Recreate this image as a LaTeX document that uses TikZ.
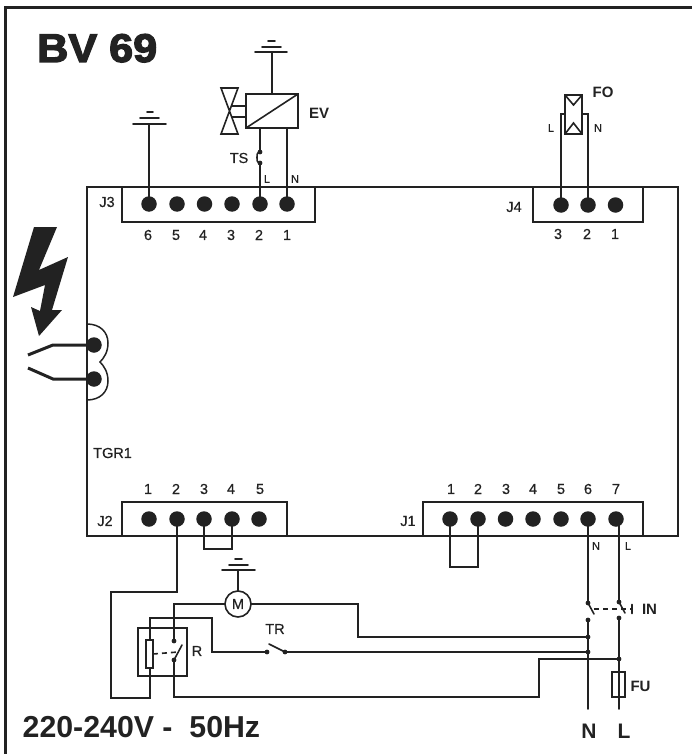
\documentclass[tikz,border=0pt]{standalone}
\usepackage{fontspec}
\setmainfont{Liberation Sans}
\newfontfamily\heavyfont[FakeBold=3.2,FakeStretch=1.08]{Liberation Sans Bold}
\newfontfamily\boldfont{Liberation Sans Bold}
\newfontfamily\medfont[FakeBold=0.5]{Liberation Sans}
\definecolor{ink}{HTML}{222222}
\tikzset{
  wire/.style={draw=ink,line width=1.6pt,line cap=round,line join=miter},
  frameline/.style={draw=ink,line width=1.5pt},
  outer/.style={draw=ink,line width=3pt},
  termdot/.style={circle,fill=ink,minimum size=15.5pt,inner sep=0pt,outer sep=0pt},
  smalldot/.style={circle,fill=ink,minimum size=4.8pt,inner sep=0pt,outer sep=0pt},
  lab/.style={text=ink,inner sep=0pt,font=\medfont\fontsize{14.5}{14.5}\selectfont},
  tiny/.style={text=ink,inner sep=0pt,font=\medfont\fontsize{11}{11}\selectfont},
  blab/.style={text=ink,inner sep=0pt,font=\boldfont\fontsize{15}{15}\selectfont},
  thickcontact/.style={draw=ink,line width=3pt},
  dashwire/.style={draw=ink,line width=1.6pt,dash pattern=on 5pt off 4pt},
}
\begin{document}
\begin{tikzpicture}[x=1pt,y=-1pt]
\useasboundingbox (0,0) rectangle (692,754);
% outer frame
\draw[outer] (692,8) -- (5.5,8) -- (5.5,754);
% board
\draw[frameline] (87,187) -- (678,187) -- (678,536) -- (87,536) -- cycle;
\draw[frameline] (122,187) -- (122,222) -- (315,222) -- (315,187);
\draw[frameline] (533,187) -- (533,222) -- (643,222) -- (643,187);
\draw[frameline] (122,536) -- (122,502) -- (287,502) -- (287,536);
\draw[frameline] (423,536) -- (423,502) -- (643,502) -- (643,536);
% antenna bulge
\draw[frameline] (87,324) .. controls (100,324) and (108,332) .. (108,343) .. controls (108,352) and (104,358) .. (100,362) .. controls (104,366) and (108,372) .. (108,381) .. controls (108,392) and (100,400) .. (87,400);
% terminals
\foreach \n/\x in {6/149,5/177,4/204.5,3/232,2/260,1/287}{\node[termdot] (jc\n) at (\x,204) {};}
\foreach \n/\x in {3/561,2/588,1/615.5}{\node[termdot] (jd\n) at (\x,205) {};}
\foreach \n/\x in {1/149,2/177,3/204,4/232,5/259}{\node[termdot] (jb\n) at (\x,519) {};}
\foreach \n/\x in {1/450,2/478,3/505.5,4/533,5/561,6/588,7/616}{\node[termdot] (ja\n) at (\x,519) {};}
\node[termdot] (ca) at (94,345) {};
\node[termdot] (cb) at (94,379) {};
% terminal numbers
\foreach \n/\x in {6/148,5/176,4/203,3/231,2/259,1/287}{\node[lab] (njc\n) at (\x,235) {\n};}
\foreach \n/\x in {3/558,2/587,1/615}{\node[lab] (njd\n) at (\x,234) {\n};}
\foreach \n/\x in {1/148,2/176,3/204,4/231,5/260}{\node[lab] (njb\n) at (\x,489) {\n};}
\foreach \n/\x in {1/451,2/478,3/506,4/533,5/561,6/588,7/616}{\node[lab] (nja\n) at (\x,489) {\n};}
\node[lab] (lj3) at (107,202) {J3};
\node[lab] (lj4) at (514,207) {J4};
\node[lab] (lj2) at (105,521) {J2};
\node[lab] (lj1) at (408,521) {J1};
\node[lab,anchor=west] (ltgr) at (93,453) {TGR1};
% titles
\node[anchor=base west,text=ink,inner sep=0pt,font=\heavyfont\fontsize{40}{40}\selectfont] (title) at (37,62) {BV 69};
\node[anchor=base west,text=ink,inner sep=0pt,font=\boldfont\fontsize{30.3}{30.3}\selectfont] (volt) at (22.5,737) {220-240V -\ \ 50Hz};
% lightning
\fill[ink] (34,227) -- (57,227) -- (39,270) -- (68,257) -- (52,310) -- (62,310) -- (39,336) -- (31,307) -- (40,311) -- (45,285) -- (13,297) -- cycle;
% contacts
\coordinate (cak) at (53,345); \coordinate (cae) at (28,355);
\coordinate (cbk) at (53,379); \coordinate (cbe) at (28,368);
\draw[thickcontact] (ca.center) -- (cak) -- (cae);
\draw[thickcontact] (cb.center) -- (cbk) -- (cbe);
% ground J3
\coordinate (ga) at (149,124);
\draw[wire] (ga) -- (jc6.center);
\draw[wire] (133,124) -- (166,124) (140,118) -- (159,118) (147,112) -- (153,112);
% EV
\node[draw=ink,line width=1.6pt,minimum width=52pt,minimum height=34pt,inner sep=0pt,outer sep=0pt] (ev) at (272,111) {};
\draw[wire] (ev.south west) -- (ev.north east);
\coordinate (gb) at (272,52);
\draw[wire] (gb) -- (ev.north);
\draw[wire] (255,52) -- (287,52) (262,47) -- (281,47) (268,41) -- (275,41);
\draw[wire] (221,88) -- (238,88) -- (221,134) -- (238,134) -- cycle;
\draw[wire] (232,106) -- (246,106) (232,117) -- (246,117);
\node[blab] (lev) at (319,113) {EV};
% TS
\node[smalldot] (tsa) at (260,152) {};
\node[smalldot] (tsb) at (260,163) {};
\draw[wire] (260,128) -- (tsa.center);
\draw[wire] (tsb.center) -- (jc2.center);
\draw[wire] (tsa.center) .. controls (256.5,153) and (257,155) .. (257,157.5) .. controls (257,160) and (256.5,162) .. (tsb.center);
\draw[wire] (287,128) -- (jc1.center);
\node[lab] (lts) at (239,158) {TS};
\node[tiny] (lcl) at (267,179) {L};
\node[tiny] (lcn) at (295,179) {N};
% FO
\node[draw=ink,line width=1.6pt,minimum width=17pt,minimum height=39pt,inner sep=0pt,outer sep=0pt] (fo) at (573.5,114.5) {};
\draw[wire] (fo.north west) -- (573.5,105) -- (fo.north east);
\draw[wire] (fo.south west) -- (573.5,123) -- (fo.south east);
\draw[wire] (jd3.center) -- (561,114) -- (565,114);
\draw[wire] (jd2.center) -- (588,114) -- (582,114);
\node[blab] (lfo) at (603,92) {FO};
\node[tiny] (lfl) at (551,128) {L};
\node[tiny] (lfn) at (598,128) {N};
% jumpers
\draw[wire] (jb3.center) -- (204,549) -- (232,549) -- (jb4.center);
\draw[wire] (ja1.center) -- (450,567) -- (478,567) -- (ja2.center);
% mains switch
\node[tiny] (lan) at (596,546) {N};
\node[tiny] (lal) at (628,546) {L};
\node[smalldot] (sa) at (588,603) {};
\node[smalldot] (sb) at (619,602) {};
\node[smalldot] (sc) at (588,620) {};
\node[smalldot] (sd) at (619,618) {};
\draw[wire] (ja6.center) -- (sa.center);
\draw[wire] (ja7.center) ++(3,0) -- (sb.center);
\draw[wire] (sa.center) -- (594,614);
\draw[wire] (sb.center) -- (625,613);
\draw[dashwire] (594,609) -- (632,609);
\draw[wire] (632,604.5) -- (632,613.5);
\node[blab] (lin) at (649.5,609) {IN};
% neutral and line
\node[smalldot] (na) at (588,637) {};
\node[smalldot] (nb) at (588,652) {};
\node[smalldot] (nc) at (619,659) {};
\coordinate (nend) at (588,709);
\coordinate (lend) at (619,709);
\draw[wire] (sc.center) -- (nend);
\draw[wire] (sd.center) -- (lend);
\node[draw=ink,fill=none,line width=1.6pt,minimum width=13pt,minimum height=25pt,inner sep=0pt,outer sep=0pt] (fu) at (618.5,684.5) {};
\node[blab] (lfu) at (640.5,686) {FU};
\node[anchor=base,text=ink,inner sep=0pt,font=\boldfont\fontsize{21}{21}\selectfont] (bn) at (589,738) {N};
\node[anchor=base,text=ink,inner sep=0pt,font=\boldfont\fontsize{21}{21}\selectfont] (bl) at (624,738) {L};
% motor
\node[circle,draw=ink,line width=1.6pt,minimum size=26pt,inner sep=0pt,outer sep=0pt,text=ink,font=\medfont\fontsize{14.5}{14.5}\selectfont] (mot) at (238,604) {M};
\draw[wire] (mot.north) -- (238,570);
\draw[wire] (222,570) -- (255,570) (229,565) -- (248,565) (235,559) -- (242,559);
% relay
\node[draw=ink,line width=1.6pt,minimum width=49pt,minimum height=48pt,inner sep=0pt,outer sep=0pt] (rel) at (162.5,652) {};
\node[draw=ink,line width=1.6pt,minimum width=7pt,minimum height=28pt,inner sep=0pt,outer sep=0pt] (coil) at (149.5,654) {};
\node[smalldot] (ra) at (174,641) {};
\node[smalldot] (rb) at (174,660) {};
\draw[wire] (rb.center) -- (182,645);
\draw[dashwire] (coil.east) -- (178,652);
\node[lab] (lr) at (197,651) {R};
\draw[wire] (mot.west) -- (174,604) -- (ra.center);
\draw[wire] (mot.east) -- (358,604) -- (358,637) -- (na.center);
% TR
\node[smalldot] (ta) at (267,652) {};
\node[smalldot] (tb) at (285,652) {};
\draw[wire] (269,644) -- (tb.center);
\node[lab] (ltr) at (275,629) {TR};
\draw[wire] (150,640) -- (150,618) -- (212,618) -- (212,652) -- (ta.center);
\draw[wire] (tb.center) -- (nb.center);
% return wires
\draw[wire] (jb2.center) -- (177,592) -- (111,592) -- (111,698) -- (150,698) -- (150,668);
\draw[wire] (rb.center) -- (174,697) -- (539,697) -- (539,659) -- (nc.center);
\end{tikzpicture}
\end{document}
